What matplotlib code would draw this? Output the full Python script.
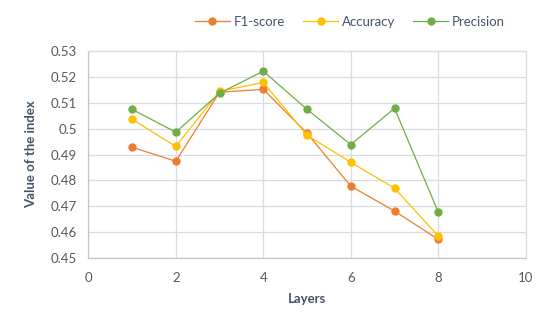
import matplotlib
matplotlib.use('Agg')
import matplotlib.pyplot as plt

# values
layers = [1, 2, 3, 4, 5, 6, 7, 8]
f1_score = [0.4928, 0.4874, 0.5140, 0.5151, 0.4982, 0.4778, 0.4682, 0.4573]
accuracy = [0.5036, 0.4931, 0.5143, 0.5178, 0.4974, 0.4870, 0.4770, 0.4586]
precision = [0.5074, 0.4986, 0.5136, 0.5221, 0.5074, 0.4938, 0.5078, 0.4678]

x_ticks = [0, 2, 4, 6, 8, 10]
y_ticks = [0.45, 0.46, 0.47, 0.48, 0.49, 0.5, 0.51, 0.52, 0.53]
y_tick_labels = ['0.45', '0.46', '0.47', '0.48', '0.49', '0.5', '0.51', '0.52', '0.53']

plt.rcParams['font.family'] = ['Lato', 'DejaVu Sans']
text_col = '#44546A'
grid_col = '#D9DCE1'

fig = plt.figure(figsize=(5.54, 3.18), dpi=100)
ax = fig.add_axes([0.1594, 0.1877, 0.7896, 0.6529])

ax.plot(layers, f1_score, color='#ED7D31', marker='o', markersize=5, linewidth=0.9, label='F1-score', zorder=3)
ax.plot(layers, accuracy, color='#FFC000', marker='o', markersize=5, linewidth=0.9, label='Accuracy', zorder=3)
ax.plot(layers, precision, color='#70AD47', marker='o', markersize=5, linewidth=0.9, label='Precision', zorder=3)

ax.set_xlim(0, 10)
ax.set_ylim(0.45, 0.53)
ax.set_xticks(x_ticks)
ax.set_yticks(y_ticks)
ax.set_yticklabels(y_tick_labels)
ax.grid(True, color=grid_col, linewidth=0.9)
ax.set_axisbelow(True)
for s in ['top', 'right']:
    ax.spines[s].set_color(grid_col)
    ax.spines[s].set_linewidth(0.9)
for s in ['left', 'bottom']:
    ax.spines[s].set_color('#BFC6D1')
    ax.spines[s].set_linewidth(0.9)
ax.tick_params(length=0, labelsize=9.5, colors='#595959', pad=8)
ax.tick_params(axis='x', pad=10)

ax.set_xlabel('Layers', fontsize=9.5, fontweight='bold', color=text_col, labelpad=6)
ax.set_ylabel('Value of the index', fontsize=9.5, fontweight='bold', color=text_col, labelpad=10)

leg = fig.legend(loc='center', bbox_to_anchor=(350 / 554, 1 - 22 / 318), ncol=3, frameon=False,
                 fontsize=9.5, handlelength=2.6, columnspacing=1.4, handletextpad=0.3)
for t in leg.get_texts():
    t.set_color(text_col)

fig.savefig('out.png', dpi=100)
